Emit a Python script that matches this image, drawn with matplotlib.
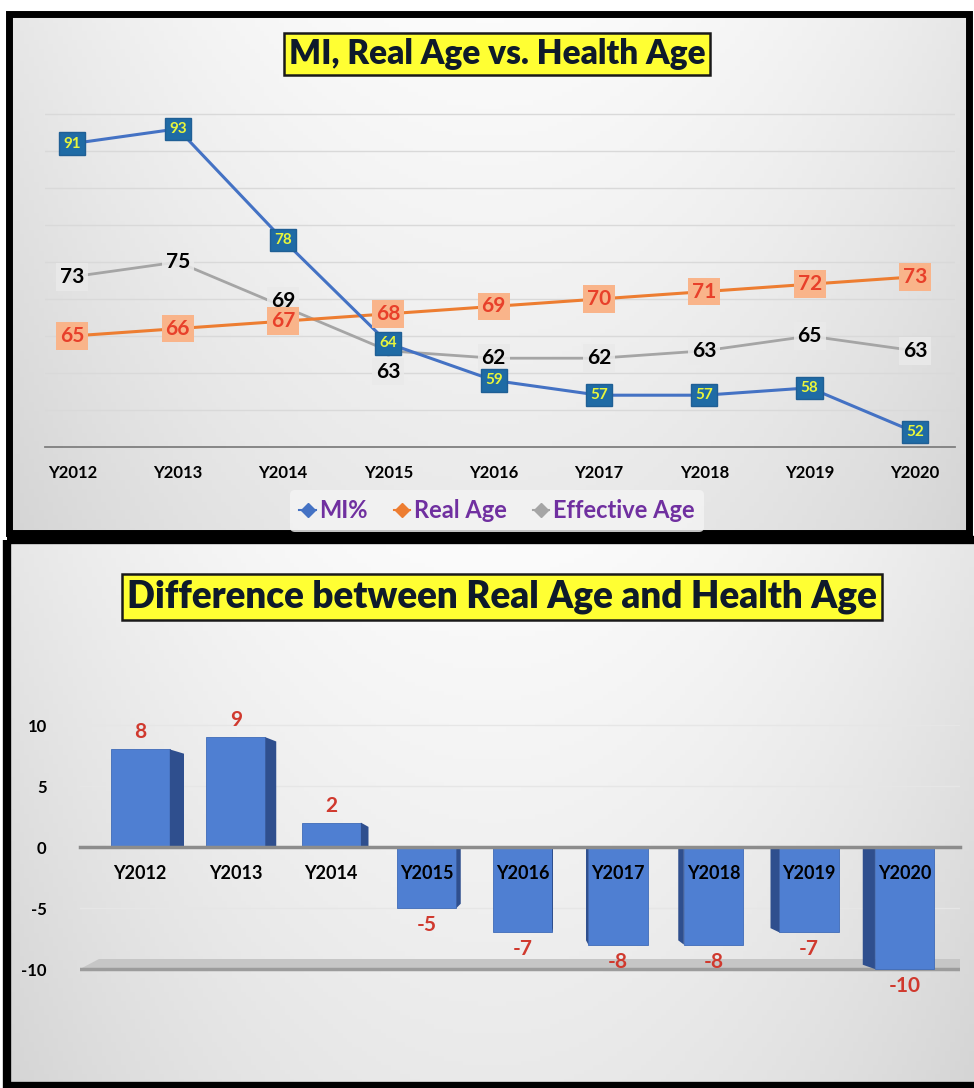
import matplotlib
matplotlib.use("Agg")
import matplotlib.pyplot as plt
import numpy as np
from matplotlib.lines import Line2D
from matplotlib.patches import Rectangle

plt.rcParams['font.family'] = ['Lato', 'DejaVu Sans']

years = ["Y2012", "Y2013", "Y2014", "Y2015", "Y2016", "Y2017", "Y2018", "Y2019", "Y2020"]
mi_pct = [91, 93, 78, 64, 59, 57, 57, 58, 52]
real_age = [65, 66, 67, 68, 69, 70, 71, 72, 73]
effective_age = [73, 75, 69, 63, 62, 62, 63, 65, 63]
age_gap = [e - r for e, r in zip(effective_age, real_age)]

W, H = 974, 1088
fig = plt.figure(figsize=(W / 100, H / 100), dpi=100)

# background layer in pixel coordinates: panel gradients and black frames
bg = fig.add_axes([0, 0, 1, 1], zorder=-10)
bg.axis("off")


def panel_gradient(x0, y0, x1, y1):
    xx, yy = np.meshgrid(np.linspace(0, 1, 200), np.linspace(0, 1, 120))
    g = 0.985 - 0.08 * ((xx - 0.5) * 2) ** 2 - 0.07 * yy
    rgb = np.dstack([g, g, g])
    bg.imshow(rgb, extent=(x0, x1, y1, y0), aspect="auto", zorder=0)


panel_gradient(10, 14, 970, 532)
panel_gradient(10, 540, W, H)
bg.set_xlim(0, W)
bg.set_ylim(H, 0)
bg.add_patch(Rectangle((9, 14), 960, 519, fill=False, ec="black", lw=5, zorder=2))
bg.add_patch(Rectangle((7, 540), 980, 546, fill=False, ec="black", lw=6, zorder=2))

title_box = dict(boxstyle="square,pad=0.15", fc="#FFFF33", ec="#1A1A1A", lw=1.8)
fig.text(497 / W, 1 - 54 / H, "MI, Real Age vs. Health Age", ha="center", va="center",
         weight="heavy", fontsize=24, color="#0E1A2B", bbox=title_box)
fig.text(502 / W, 1 - 597 / H, "Difference between Real Age and Health Age", ha="center",
         va="center", weight="heavy", fontsize=26.5, color="#0E1A2B", bbox=title_box)

# ---- top: line chart ----
ax1 = fig.add_axes([45 / W, 1 - 447 / H, 910 / W, 370 / H])
ax1.patch.set_alpha(0)
x = np.arange(len(years))
ax1.set_xlim(-0.26, 8.38)
ax1.set_ylim(50, 100)
for gy in range(55, 100, 5):
    ax1.axhline(gy, color="#D9D9D9", lw=1, zorder=0)

ax1.plot(x, effective_age, color="#A5A5A5", lw=2, marker="o", ms=6, zorder=2, label="Effective Age")
ax1.plot(x, real_age, color="#ED7D31", lw=2.2, marker="o", ms=6, zorder=3, label="Real Age")
ax1.plot(x, mi_pct, color="#4472C4", lw=2.2, marker="o", ms=6, zorder=4, label="MI%")

for i in x:
    ax1.annotate(str(mi_pct[i]), (i, mi_pct[i]), ha="center", va="center", fontsize=11,
                 weight="bold", color="#E8F53C", zorder=8,
                 bbox=dict(boxstyle="square,pad=0.28", fc="#1F6BA5", ec="#1F5F95"))
    ax1.annotate(str(real_age[i]), (i, real_age[i]), ha="center", va="center", fontsize=15,
                 weight="bold", color="#E8402A", zorder=7,
                 bbox=dict(boxstyle="square,pad=0.18", fc="#F9B48A", ec="none"))
    dy = {"Y2015": -15, "Y2014": 4}.get(years[i], 0)
    ax1.annotate(str(effective_age[i]), (i, effective_age[i]), xytext=(0, dy),
                 textcoords="offset points", ha="center", va="center", fontsize=15,
                 weight="bold", color="black", zorder=6,
                 bbox=dict(boxstyle="square,pad=0.18", fc="#EAEAEA", ec="none", alpha=0.85))

ax1.set_xticks(x)
ax1.set_xticklabels(years, fontsize=12, weight="bold")
ax1.tick_params(axis="x", length=0, pad=13)
ax1.set_yticks([])
for s in ["top", "right", "left"]:
    ax1.spines[s].set_visible(False)
ax1.spines["bottom"].set_color("#7F7F7F")
ax1.spines["bottom"].set_linewidth(1.3)

handles = [Line2D([0], [0], color=c, lw=1.5, marker="D", ms=7)
           for c in ["#4472C4", "#ED7D31", "#A5A5A5"]]
leg = fig.legend(handles, ["MI%", "Real Age", "Effective Age"], loc="center",
                 bbox_to_anchor=(497 / W, 1 - 511 / H), ncol=3, frameon=True,
                 handlelength=0.7, handletextpad=0.15, columnspacing=1.1,
                 prop=dict(weight="bold", size=17))
leg.get_frame().set_facecolor("#F4F4F4")
leg.get_frame().set_edgecolor("none")
for t in leg.get_texts():
    t.set_color("#7030A0")

# ---- bottom: bar chart ----
ax2 = fig.add_axes([80 / W, 1 - 975 / H, 880 / W, 275 / H])
ax2.patch.set_alpha(0)
x0, x1 = -0.63, 8.58
ax2.set_xlim(x0, x1)
ax2.set_ylim(-10.49, 12.05)
for gy in [5, 10, -5]:
    ax2.axhline(gy, color="#E6E6E6", lw=1, zorder=0)

# floor of the 3-D plot area
ax2.fill([x0, x1, x1, x0 + 0.2], [-10, -10, -9.15, -9.15], color="#C6C6C6", zorder=0.5, lw=0)
ax2.axhline(-10, color="#9C9C9C", lw=2.5, zorder=0.6)

bw = 0.62
ax2.bar(x, age_gap, width=bw, color="#4F7FD2", edgecolor="#3F6BB8", lw=0.6, zorder=1)
for i in x:
    v = age_gap[i]
    d = 3.3 * (4.3 - i) / 95.6
    edge = i + bw / 2 if d > 0 else i - bw / 2
    slope = 0.35 if v > 0 else -0.35
    ax2.fill([edge, edge, edge + d, edge + d], [0, v, v - slope, 0],
             color="#2F4F8E", zorder=1.1, lw=0)
    if v > 0:
        ax2.annotate(str(v), (i, v), xytext=(0, 5), textcoords="offset points", ha="center",
                     va="bottom", fontsize=15, weight="bold", color="#D0392E")
    else:
        ax2.annotate(str(v), (i, v), xytext=(0, -5), textcoords="offset points", ha="center",
                     va="top", fontsize=15, weight="bold", color="#D0392E")

ax2.set_axisbelow(False)
ax2.spines["bottom"].set_position(("data", 0))
ax2.spines["bottom"].set_color("#8C8C8C")
ax2.spines["bottom"].set_linewidth(2.5)
for s in ["top", "right", "left"]:
    ax2.spines[s].set_visible(False)
ax2.set_xticks(x)
ax2.set_xticklabels(years, fontsize=13, weight="bold")
ax2.tick_params(axis="x", length=0, pad=13)
ax2.set_yticks([-10, -5, 0, 5, 10])
ax2.set_yticklabels(["-10", "-5", "0", "5", "10"], fontsize=12, weight="bold")
ax2.tick_params(axis="y", length=0, pad=24)

fig.savefig("out.png", dpi=100)
